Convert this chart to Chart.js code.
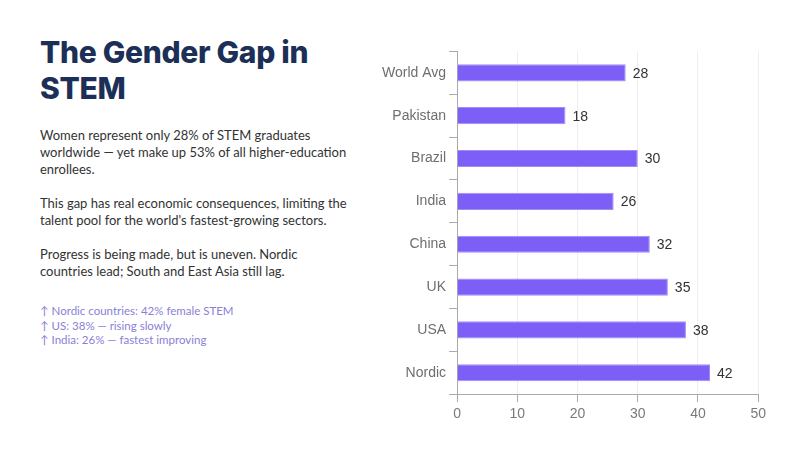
<!DOCTYPE html>
<html>
<head>
<meta charset="utf-8">
<script src="https://cdn.jsdelivr.net/npm/chart.js@4.4.0/dist/chart.umd.min.js"></script>
<style>
  html, body { margin: 0; padding: 0; background: #ffffff; }
  body { width: 800px; height: 450px; position: relative; overflow: hidden; }
  #left { position: absolute; left: 40px; top: 34px; width: 330px; }
  h1 { font-family: "Inter", sans-serif; font-weight: 800; font-size: 30px; line-height: 36px; color: #1b2f57; margin: 0 0 21px 0; letter-spacing: -0.3px; }
  p { font-family: "Lato", sans-serif; font-size: 13px; line-height: 17px; color: #333; margin: 0 0 17px 0; }
  .notes { margin-top: 24px; font-family: "Lato", sans-serif; font-size: 11.5px; line-height: 14.5px; color: #8a80d8; }
  #wrap { position: absolute; left: 379px; top: 40px; width: 391px; height: 387px; }
</style>
</head>
<body>
<div id="left">
  <h1>The Gender Gap in<br>STEM</h1>
  <p>Women represent only 28% of STEM graduates<br>worldwide — yet make up 53% of all higher-education<br>enrollees.</p>
  <p>This gap has real economic consequences, limiting the<br>talent pool for the world's fastest-growing sectors.</p>
  <p>Progress is being made, but is uneven. Nordic<br>countries lead; South and East Asia still lag.</p>
  <div class="notes">
    <div>↑ Nordic countries: 42% female STEM</div>
    <div>↑ US: 38% — rising slowly</div>
    <div>↑ India: 26% — fastest improving</div>
  </div>
</div>
<div id="wrap"><canvas id="c"></canvas></div>
<script>
const categories = ["World Avg", "Pakistan", "Brazil", "India", "China", "UK", "USA", "Nordic"];
const femaleStemShare = [28, 18, 30, 26, 32, 35, 38, 42];
const xTicks = [0, 10, 20, 30, 40, 50];

const valueLabels = {
  id: 'valueLabels',
  afterDatasetsDraw(chart) {
    const ctx = chart.ctx;
    const meta = chart.getDatasetMeta(0);
    ctx.save();
    ctx.font = '14px "Liberation Sans", Arial, sans-serif';
    ctx.fillStyle = '#333333';
    ctx.textAlign = 'left';
    ctx.textBaseline = 'middle';
    meta.data.forEach((bar, i) => {
      ctx.fillText(String(femaleStemShare[i]), bar.x + 7, bar.y + 1);
    });
    ctx.restore();
  }
};

new Chart(document.getElementById('c'), {
  type: 'bar',
  data: {
    labels: categories,
    datasets: [{
      data: femaleStemShare,
      backgroundColor: '#7d5ff8',
      borderColor: '#a08ef5',
      borderWidth: 1,
      barPercentage: 0.8,
      categoryPercentage: 0.5
    }]
  },
  options: {
    indexAxis: 'y',
    responsive: true,
    maintainAspectRatio: false,
    animation: false,
    layout: { padding: { top: 10, right: 4, bottom: 0, left: 0 } },
    plugins: { legend: { display: false }, tooltip: { enabled: false } },
    scales: {
      x: {
        min: 0, max: 50,
        afterBuildTicks(scale) { scale.ticks = xTicks.map(v => ({ value: v })); },
        grid: { color: '#f1ecf1', tickColor: '#aaaaaa', tickLength: 8 },
        border: { color: '#aaaaaa' },
        ticks: { color: '#7a7a7a', font: { size: 14, family: '"Liberation Sans", Arial, sans-serif' }, padding: 4 }
      },
      y: {
        grid: { drawOnChartArea: false, tickColor: '#aaaaaa', tickLength: 8 },
        border: { color: '#aaaaaa' },
        ticks: { color: '#6e6e6e', font: { size: 14, family: '"Liberation Sans", Arial, sans-serif' }, padding: 3 }
      }
    }
  },
  plugins: [valueLabels]
});
</script>
</body>
</html>
